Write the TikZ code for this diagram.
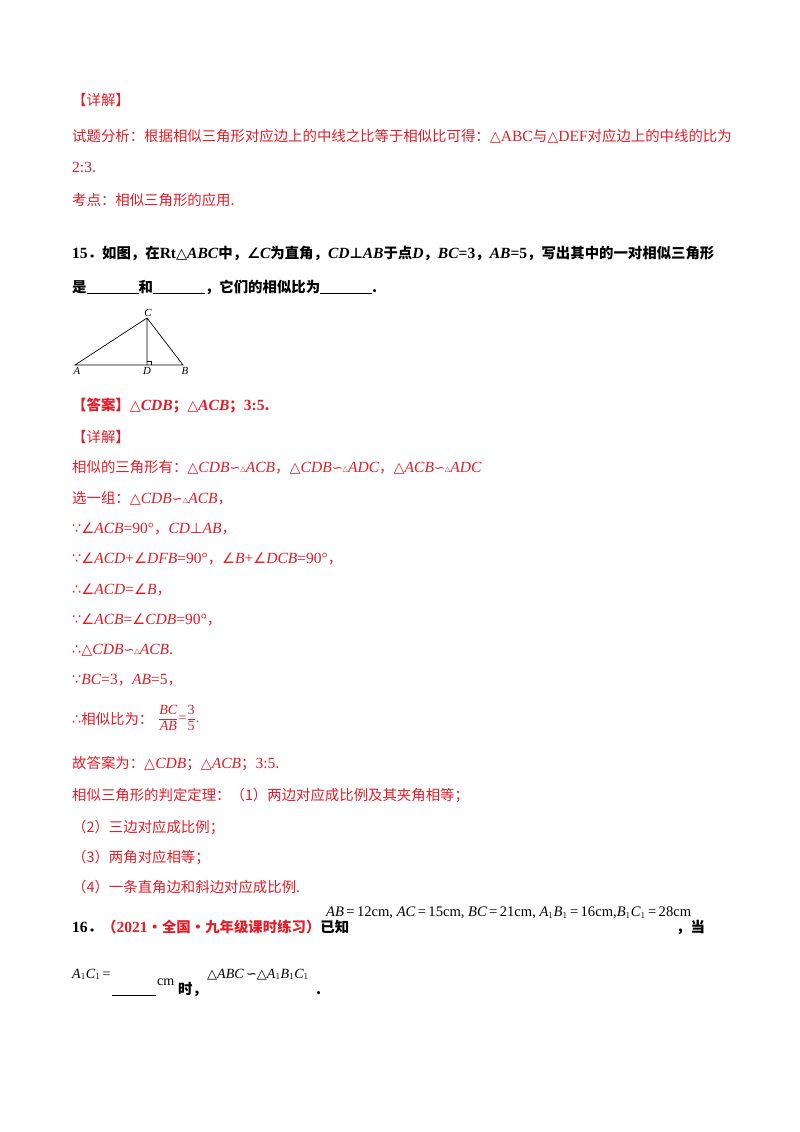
\documentclass[tikz,border=0pt]{standalone}
\usepackage{fontspec}
\setmainfont{Noto Sans CJK SC}
\newfontfamily\lt[Scale=1.08]{Liberation Serif}
\newfontfamily\sy{DejaVu Sans}
\definecolor{rd}{RGB}{225,30,40}
\newcommand{\mi}[1]{{\lt\itshape #1}}
\newcommand{\up}[1]{{\lt #1}}
\newcommand{\sm}{{\sy\fontsize{13}{14}\selectfont ∽\raisebox{1pt}{\fontsize{7}{8}\selectfont △}}}
\newcommand{\tri}{{\sy △}}
\newcommand{\ang}{{\sy ∠}}
\begin{document}
\begin{tikzpicture}[x=1pt,y=-1pt,
  t/.style={anchor=base west,inner sep=0pt,font=\fontsize{14.4}{16}\selectfont},
  r/.style={t,text=rd},
  lab/.style={inner sep=0pt,font=\lt\itshape\fontsize{10}{11}\selectfont}]
\useasboundingbox[fill=white] (0,0) rectangle (800,1132);
\node[r] (l1) at (72,105) {【详解】};
\node[r] (l2) at (72,141) {试题分析：根据相似三角形对应边上的中线之比等于相似比可得：\tri\up{ABC}与\tri\up{DEF}对应边上的中线的比为};
\node[r] (l3) at (72,172) {\up{2:3}.};
\node[r] (l4) at (72,205) {考点：相似三角形的应用.};
\node[t,font=\bfseries\fontsize{14.4}{16}\selectfont] (q15) at (72,258) {\up{\bfseries 15}．如图，在\up{\bfseries Rt}\tri\mi{\bfseries ABC}中，\ang\mi{\bfseries C}为直角，\mi{\bfseries CD}{\sy⊥}\mi{\bfseries AB}于点\mi{\bfseries D}，\mi{\bfseries BC}\up{\bfseries =3}，\mi{\bfseries AB}\up{\bfseries =5}，写出其中的一对相似三角形};
\node[t,font=\bfseries\fontsize{14.4}{16}\selectfont] (q15b) at (72,292) {是\underline{\hspace{52pt}}和\underline{\hspace{52pt}}，它们的相似比为\underline{\hspace{52pt}}.};
% triangle
\coordinate (A) at (75,365); \coordinate (D) at (147,365); \coordinate (B) at (183,365); \coordinate (C) at (147,318);
\draw[line width=0.7pt] (A)--(B)--(C)--cycle (C)--(D);
\draw[line width=0.5pt] (147,361)--(151,361)--(151,365);
\node[lab,anchor=north] (la) at (77,367) {A};
\node[lab,anchor=north] (ld) at (147,367) {D};
\node[lab,anchor=north] (lb) at (185,367) {B};
\node[lab,anchor=south] (lc) at (148,317) {C};
\node[r,font=\bfseries\fontsize{14.4}{16}\selectfont] (ans) at (72,410) {【答案】\tri\mi{CDB}；\tri\mi{ACB}；\up{3:5}.};
\node[r] (d2) at (72,442) {【详解】};
\node[r] (s1) at (72,472) {相似的三角形有：\tri\mi{CDB}\sm\mi{ACB}，\tri\mi{CDB}\sm\mi{ADC}，\tri\mi{ACB}\sm\mi{ADC}};
\node[r] (s2) at (72,503) {选一组：\tri\mi{CDB}\sm\mi{ACB}，};
\node[r] (s3) at (72,533) {{\sy∵}\ang\mi{ACB}\up{=90°}，\mi{CD}{\sy⊥}\mi{AB}，};
\node[r] (s4) at (72,563) {{\sy∵}\ang\mi{ACD}\up{+}\ang\mi{DFB}\up{=90°}，\ang\mi{B}\up{+}\ang\mi{DCB}\up{=90°}，};
\node[r] (s5) at (72,594) {{\sy∴}\ang\mi{ACD}\up{=}\ang\mi{B}，};
\node[r] (s6) at (72,624) {{\sy∵}\ang\mi{ACB}\up{=}\ang\mi{CDB}\up{=90°}，};
\node[r] (s7) at (72,654) {{\sy∴}\tri\mi{CDB}\sm\mi{ACB}.};
\node[r] (s8) at (72,684) {{\sy∵}\mi{BC}\up{=3}，\mi{AB}\up{=5}，};
\node[r] (s9) at (72,724) {{\sy∴}相似比为：};
\node[inner sep=0pt,anchor=west,text=rd,font=\fontsize{13}{14}\selectfont] (fr) at (158,718) {$\displaystyle\frac{\mbox{\mi{BC}}}{\mbox{\mi{AB}}}\mbox{\up{=}}\frac{\mbox{\up{3}}}{\mbox{\up{5}}}$\up{.}};
\node[r] (s10) at (72,768) {故答案为：\tri\mi{CDB}；\tri\mi{ACB}；\up{3:5}.};
\node[r] (s11) at (72,800) {相似三角形的判定定理：（1）两边对应成比例及其夹角相等；};
\node[r] (s12) at (72,832) {（2）三边对应成比例；};
\node[r] (s13) at (72,862) {（3）两角对应相等；};
\node[r] (s14) at (72,892) {（4）一条直角边和斜边对应成比例.};
\node[t,font=\bfseries\fontsize{14.4}{16}\selectfont] (q16) at (72,932) {\up{\bfseries 16}．{\color{rd}（\up{\bfseries 2021}·全国·九年级课时练习）}已知};
\node[t,font=\lt\fontsize{13.5}{14}\selectfont] (f16) at (326,916) {\mi{AB}\,=\,12cm, \mi{AC}\,=\,15cm, \mi{BC}\,=\,21cm, \mi{A}$_1$\mi{B}$_1$\,=\,16cm,\mi{B}$_1$\mi{C}$_1$\,=\,28cm};
\node[t,font=\bfseries\fontsize{14.4}{16}\selectfont] (dang) at (676,932) {，当};
\node[t,font=\lt\fontsize{13}{14}\selectfont] (a1) at (72,978) {\mi{A}$_1$\mi{C}$_1$\,=};
\draw[line width=0.8pt] (112,995) -- (156,995);
\node[t,font=\lt\fontsize{13}{14}\selectfont] (cm) at (157,985) {cm};
\node[t,font=\bfseries\fontsize{14.4}{16}\selectfont] (shi) at (178,994) {时，};
\node[t,font=\lt\fontsize{13}{14}\selectfont] (sim) at (207,978) {{\sy△}\mi{ABC}\,{\sy∽}{\sy△}\mi{A}$_1$\mi{B}$_1$\mi{C}$_1$};
\node[t,font=\bfseries\fontsize{14.4}{16}\selectfont] (dot) at (316,994) {.};
\end{tikzpicture}
\end{document}
